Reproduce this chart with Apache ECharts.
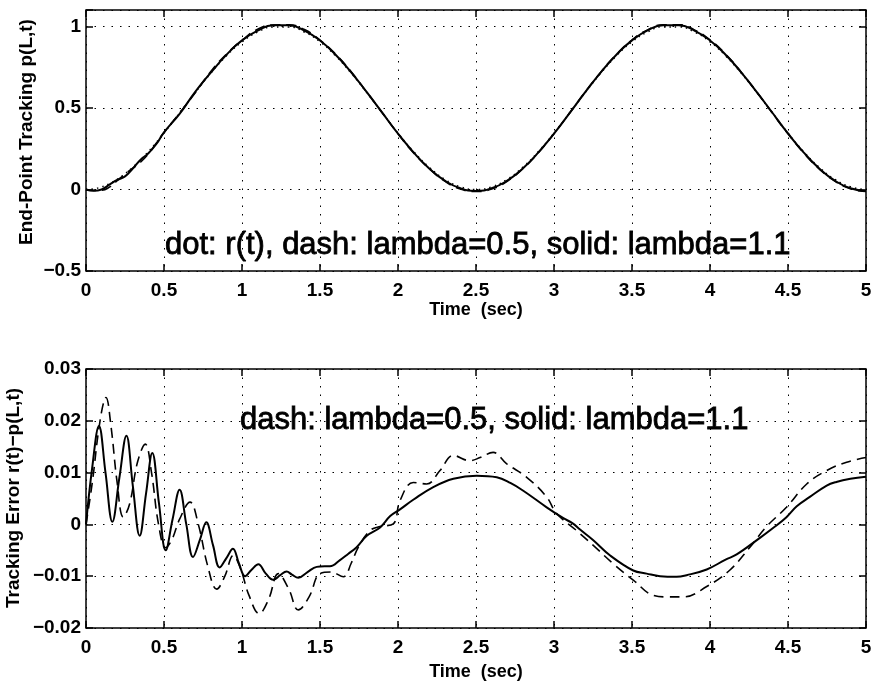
<!DOCTYPE html>
<html>
<head>
<meta charset="utf-8">
<script src="https://cdn.jsdelivr.net/npm/echarts@6/dist/echarts.min.js"></script>
<style>
  html, body { margin: 0; padding: 0; background: #fff; }
  #chart { width: 876px; height: 685px; }
</style>
</head>
<body>
<div id="chart"></div>
<script>
// ---- upper panel: end-point tracking p(L,t) ----
const topTime = [0, 0.05, 0.1, 0.15, 0.2, 0.25, 0.3, 0.35, 0.4, 0.45, 0.5,
  0.6, 0.7, 0.8, 0.9, 1.0, 1.1, 1.2, 1.3, 1.4, 1.5, 1.6, 1.7, 1.8, 1.9, 2.0,
  2.1, 2.2, 2.3, 2.4, 2.5, 2.6, 2.7, 2.8, 2.9, 3.0, 3.1, 3.2, 3.3, 3.4, 3.5,
  3.6, 3.7, 3.8, 3.9, 4.0, 4.1, 4.2, 4.3, 4.4, 4.5, 4.6, 4.7, 4.8, 4.9, 5.0];

// reference trajectory r(t)
const refTrack = [0, 0.004, 0.016, 0.035, 0.062, 0.096, 0.136, 0.181, 0.232, 0.287, 0.345,
  0.469, 0.594, 0.713, 0.819, 0.905, 0.965, 0.996, 0.996, 0.965, 0.905,
  0.819, 0.713, 0.594, 0.469, 0.345, 0.232, 0.136, 0.062, 0.016, 0,
  0.016, 0.062, 0.136, 0.232, 0.345, 0.469, 0.594, 0.713, 0.819, 0.905,
  0.965, 0.996, 0.996, 0.965, 0.905, 0.819, 0.713, 0.594, 0.469, 0.345,
  0.232, 0.136, 0.062, 0.016, 0];

// response, lambda = 0.5
const trackLam05 = [0, -0.006, -0.005, 0.014, 0.054, 0.094, 0.130, 0.168, 0.218, 0.283, 0.349,
  0.468, 0.592, 0.723, 0.829, 0.914, 0.982, 1.008, 1.009, 0.980, 0.915,
  0.829, 0.721, 0.596, 0.469, 0.341, 0.224, 0.128, 0.051, 0.003, -0.013,
  0.002, 0.050, 0.127, 0.225, 0.342, 0.469, 0.597, 0.719, 0.827, 0.916,
  0.978, 1.010, 1.010, 0.978, 0.917, 0.829, 0.719, 0.597, 0.468, 0.341,
  0.225, 0.126, 0.051, 0.004, -0.013];

// response, lambda = 1.1
const trackLam11 = [0, -0.008, 0.000, 0.029, 0.058, 0.080, 0.128, 0.182, 0.222, 0.277, 0.350,
  0.463, 0.598, 0.716, 0.825, 0.914, 0.973, 1.007, 1.006, 0.974, 0.913,
  0.826, 0.718, 0.596, 0.469, 0.342, 0.227, 0.129, 0.054, 0.007, -0.009,
  0.007, 0.054, 0.129, 0.227, 0.342, 0.468, 0.596, 0.718, 0.826, 0.914,
  0.975, 1.006, 1.006, 0.974, 0.913, 0.826, 0.718, 0.597, 0.470, 0.343,
  0.227, 0.129, 0.054, 0.007, -0.009];

// ---- lower panel: tracking error r(t) - p(L,t) ----
const errTimeLam11 = [0, 0.04, 0.083, 0.125, 0.169, 0.214, 0.259, 0.30, 0.344, 0.385,
  0.425, 0.468, 0.511, 0.555, 0.60, 0.643, 0.686, 0.73, 0.771, 0.814, 0.857,
  0.90, 0.942, 0.98, 1.02, 1.06, 1.105, 1.15, 1.20, 1.245, 1.286, 1.32, 1.361,
  1.42, 1.479, 1.53, 1.564, 1.628, 1.68, 1.735, 1.80, 1.885, 1.95, 2.013, 2.1,
  2.226, 2.355, 2.504, 2.633, 2.72, 2.803, 2.953, 3.06, 3.12, 3.167, 3.25, 3.36,
  3.508, 3.594, 3.68, 3.786, 3.85, 3.979, 4.1, 4.171, 4.32, 4.40, 4.49, 4.556,
  4.64, 4.748, 4.81, 4.90, 5.0];
const errLam11 = [0, 0.011, 0.019, 0.010, 0.0005, 0.009, 0.0171, 0.0075, -0.0022, 0.006,
  0.0138, 0.004, -0.005, 0.001, 0.0067, 0.000, -0.0063, -0.003, 0.0004, -0.004, -0.0083,
  -0.0065, -0.0047, -0.0075, -0.0100, -0.0088, -0.0077, -0.0094, -0.0107, -0.0098, -0.0091, -0.0097, -0.0103,
  -0.0092, -0.0082, -0.0081, -0.0081, -0.0069, -0.0057, -0.0044, -0.0022, -0.0006, 0.0016, 0.0029, 0.0048,
  0.0072, 0.0088, 0.0094, 0.0091, 0.0080, 0.0065, 0.0033, 0.0012, 0.0002, -0.0010, -0.0030, -0.0060,
  -0.0089, -0.0095, -0.0100, -0.0101, -0.0098, -0.0087, -0.0068, -0.0058, -0.0026, -0.0008, 0.0014, 0.0035,
  0.0053, 0.0075, 0.0082, 0.0088, 0.0092];

const errTimeLam05 = [0, 0.04, 0.09, 0.128, 0.16, 0.20, 0.239, 0.28, 0.33, 0.38, 0.42,
  0.465, 0.511, 0.55, 0.60, 0.667, 0.72, 0.78, 0.838, 0.89, 0.944, 0.99, 1.045,
  1.11, 1.17, 1.233, 1.30, 1.361, 1.43, 1.50, 1.57, 1.65, 1.70, 1.746, 1.82,
  1.885, 1.97, 2.013, 2.098, 2.184, 2.269, 2.355, 2.46, 2.526, 2.61, 2.697, 2.825,
  2.953, 3.017, 3.145, 3.25, 3.38, 3.51, 3.637, 3.73, 3.83, 3.979, 4.128, 4.256,
  4.36, 4.49, 4.62, 4.748, 4.876, 5.0];
const errLam05 = [0, 0.008, 0.020, 0.0245, 0.019, 0.008, 0.0014, 0.004, 0.012, 0.0155, 0.010,
  0.000, -0.0045, -0.003, 0.001, 0.0043, 0.000, -0.008, -0.0125, -0.010, -0.006, -0.0085, -0.0137,
  -0.0172, -0.0145, -0.0095, -0.0125, -0.0165, -0.0140, -0.0095, -0.0092, -0.0101, -0.0075, -0.0044, -0.0012,
  -0.0004, 0.0001, 0.0046, 0.0081, 0.0078, 0.0104, 0.0133, 0.0123, 0.0129, 0.0139, 0.0117, 0.0091,
  0.0053, 0.0021, -0.0012, -0.0040, -0.0076, -0.0108, -0.0137, -0.0140, -0.0140, -0.0120, -0.0088, -0.0044,
  -0.0005, 0.0033, 0.0078, 0.0104, 0.0120, 0.0129];

// tick positions
const timeTicks = [0, 0.5, 1, 1.5, 2, 2.5, 3, 3.5, 4, 4.5, 5];
const topYTicks = [-0.5, 0, 0.5, 1];
const errYTicks = [-0.02, -0.01, 0, 0.01, 0.02, 0.03];

const FONT = '"Liberation Sans", Arial, Helvetica, sans-serif';

function pairs(xs, ys) { return xs.map((x, i) => [x, ys[i]]); }

function fmtNum(v) {
  const r = parseFloat(Number(v).toFixed(4));
  return (r < 0 ? '\u2212' : '') + String(Math.abs(r));
}

function pick(list) {
  return function (v) {
    return list.some(t => Math.abs(t - v) < 1e-9) ? fmtNum(v) : '';
  };
}

const dotted = { color: '#000', width: 1, type: [1.5, 7] };
const tickStyle = { show: true, inside: true, length: 7, lineStyle: { color: '#000', width: 1.5 } };
const noLine = { show: false, onZero: false };

function xAxes(grid, nameGap) {
  return [
    {
      gridIndex: grid, type: 'value', position: 'bottom', min: 0, max: 5, interval: 0.5,
      axisLine: noLine, axisTick: tickStyle,
      axisLabel: { color: '#000', fontFamily: FONT, fontWeight: 'bold', fontSize: 19, margin: 10, formatter: pick(timeTicks) },
      splitLine: { show: true, lineStyle: dotted },
      name: 'Time  (sec)', nameLocation: 'middle', nameGap: nameGap,
      nameTextStyle: { color: '#000', fontFamily: FONT, fontWeight: 'bold', fontSize: 18 }
    },
    {
      gridIndex: grid, type: 'value', position: 'top', min: 0, max: 5, interval: 0.5,
      axisLine: noLine, axisTick: tickStyle, axisLabel: { show: false }, splitLine: { show: false }
    }
  ];
}

function yAxes(grid, min, max, interval, ticks) {
  return [
    {
      gridIndex: grid, type: 'value', position: 'left', min: min, max: max, interval: interval,
      axisLine: noLine, axisTick: tickStyle,
      axisLabel: { color: '#000', fontFamily: FONT, fontWeight: 'bold', fontSize: 19, margin: 5, formatter: pick(ticks) },
      splitLine: { show: true, lineStyle: dotted }
    },
    {
      gridIndex: grid, type: 'value', position: 'right', min: min, max: max, interval: interval,
      axisLine: noLine, axisTick: tickStyle, axisLabel: { show: false }, splitLine: { show: false }
    }
  ];
}

const solidStyle = { color: '#000', width: 2, type: 'solid' };
const dashStyle = { color: '#000', width: 1.6, type: [10, 6] };
const dotStyle = { color: '#000', width: 1.5, type: [1.5, 4] };

function line(xi, yi, data, style, smooth) {
  return {
    type: 'line', xAxisIndex: xi, yAxisIndex: yi, data: data, showSymbol: false,
    smooth: smooth, lineStyle: style, silent: true, animation: false, z: 3
  };
}

const chart = echarts.init(document.getElementById('chart'), null, { renderer: 'canvas' });

chart.setOption({
  backgroundColor: '#fff',
  animation: false,
  grid: [
    { left: 86, top: 10, width: 780, height: 261, show: true, borderColor: '#000', borderWidth: 1.5, backgroundColor: 'transparent', containLabel: false },
    { left: 86, top: 369, width: 780, height: 259, show: true, borderColor: '#000', borderWidth: 1.5, backgroundColor: 'transparent', containLabel: false }
  ],
  xAxis: [].concat(xAxes(0, 24), xAxes(1, 35)),
  yAxis: [].concat(yAxes(0, -0.5, 1.1, 0.5, topYTicks), yAxes(1, -0.02, 0.03, 0.01, errYTicks)),
  series: [
    line(0, 0, pairs(topTime, refTrack), dotStyle, true),
    line(0, 0, pairs(topTime, trackLam05), dashStyle, true),
    line(0, 0, pairs(topTime, trackLam11), solidStyle, true),
    line(2, 2, pairs(errTimeLam05, errLam05), dashStyle, 0.4),
    line(2, 2, pairs(errTimeLam11, errLam11), solidStyle, 0.4)
  ],
  graphic: [
    {
      type: 'text', x: 27, y: 132, rotation: Math.PI / 2,
      style: { text: 'End-Point Tracking p(L,t)', font: 'bold 19px ' + FONT, fill: '#000', align: 'center', verticalAlign: 'middle' }
    },
    {
      type: 'text', x: 14, y: 498, rotation: Math.PI / 2,
      style: { text: 'Tracking Error r(t)\u2212p(L,t)', font: 'bold 19px ' + FONT, fill: '#000', align: 'center', verticalAlign: 'middle' }
    },
    {
      type: 'text', x: 165, y: 245, z: 10,
      style: { text: 'dot: r(t), dash: lambda=0.5, solid: lambda=1.1', font: '31px ' + FONT, fill: '#000',
        stroke: '#000', lineWidth: 0.8, align: 'left', verticalAlign: 'middle' }
    },
    {
      type: 'text', x: 240, y: 420, z: 10,
      style: { text: 'dash: lambda=0.5, solid: lambda=1.1', font: '31px ' + FONT, fill: '#000',
        stroke: '#000', lineWidth: 0.8, align: 'left', verticalAlign: 'middle' }
    }
  ]
});
</script>
</body>
</html>
